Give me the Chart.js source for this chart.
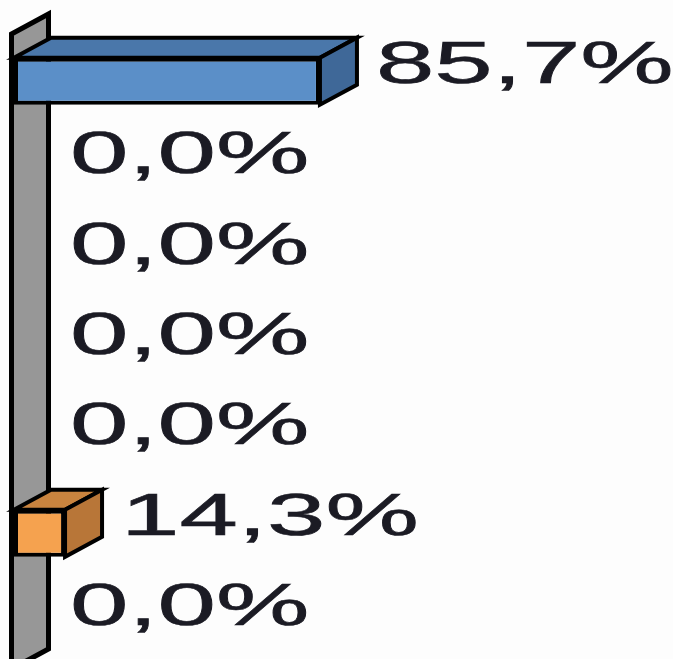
<!DOCTYPE html>
<html>
<head>
<meta charset="utf-8">
<script src="https://cdn.jsdelivr.net/npm/chart.js@4/dist/chart.umd.min.js"></script>
<style>
  html, body { margin: 0; padding: 0; background: #fdfdfd; overflow: hidden; }
  #wrap { width: 673px; height: 659px; overflow: hidden; position: relative; }
  canvas { display: block; filter: blur(0.6px); }
</style>
</head>
<body>
<div id="wrap"><canvas id="c" width="673" height="700"></canvas></div>
<script>
// ---- data ----
const categories = ['1', '2', '3', '4', '5', '6', '7'];
const percentValues = [85.7, 0.0, 0.0, 0.0, 0.0, 14.3, 0.0];
const frontColors = ['#5B8FC8', '#5B8FC8', '#5B8FC8', '#5B8FC8', '#5B8FC8', '#F5A24F', '#5B8FC8'];
const topColors   = ['#4A77AA', '#4A77AA', '#4A77AA', '#4A77AA', '#4A77AA', '#C9843F', '#4A77AA'];
const sideColors  = ['#3F6898', '#3F6898', '#3F6898', '#3F6898', '#3F6898', '#B87638', '#3F6898'];

const DX = 37, DY = -20;

function fmt(v) { return v.toFixed(1).replace('.', ',') + '%'; }

const threeD = {
  id: 'threeD',
  beforeDatasetsDraw(chart) {
    const ctx = chart.ctx;
    const area = chart.chartArea;
    const xs = chart.scales.x;
    const x0 = xs.getPixelForValue(0);
    // side wall
    ctx.save();
    ctx.beginPath();
    const wx = x0 - 2.5;
    ctx.moveTo(wx, area.top - 2);
    ctx.lineTo(wx + DX, area.top + DY - 2);
    ctx.lineTo(wx + DX, area.bottom + DY);
    ctx.lineTo(wx, area.bottom);
    ctx.closePath();
    ctx.fillStyle = '#979797';
    ctx.fill();
    ctx.lineWidth = 5;
    ctx.strokeStyle = '#000';
    ctx.lineJoin = 'miter';
    ctx.stroke();
    ctx.restore();
    // bar top and side faces
    const meta = chart.getDatasetMeta(0);
    meta.data.forEach((el, i) => {
      const v = percentValues[i];
      if (!v) return;
      const p = el.getProps(['x', 'y', 'base', 'height'], true);
      const xL = p.base, xR = p.x;
      const t = p.y - p.height / 2, b = p.y + p.height / 2;
      ctx.save();
      ctx.lineWidth = 4;
      ctx.strokeStyle = '#000';
      ctx.lineJoin = 'miter';
      // top
      ctx.beginPath();
      ctx.moveTo(xL, t);
      ctx.lineTo(xR, t);
      ctx.lineTo(xR + DX, t + DY);
      ctx.lineTo(xL + DX, t + DY);
      ctx.closePath();
      ctx.fillStyle = topColors[i];
      ctx.fill();
      ctx.stroke();
      // side
      ctx.beginPath();
      ctx.moveTo(xR, t);
      ctx.lineTo(xR + DX, t + DY);
      ctx.lineTo(xR + DX, b + DY);
      ctx.lineTo(xR, b);
      ctx.closePath();
      ctx.fillStyle = sideColors[i];
      ctx.fill();
      ctx.stroke();
      ctx.restore();
    });
  },
  afterDatasetsDraw(chart) {
    const ctx = chart.ctx;
    const meta = chart.getDatasetMeta(0);
    meta.data.forEach((el, i) => {
      const p = el.getProps(['x', 'y'], true);
      ctx.save();
      ctx.translate(p.x + DX + 19, p.y + 1.5);
      ctx.scale(1.78, 1);
      ctx.font = '59px "Liberation Sans", Arial, sans-serif';
      ctx.fillStyle = '#1b1b24';
      ctx.strokeStyle = '#1b1b24';
      ctx.lineWidth = 0.6;
      ctx.textBaseline = 'alphabetic';
      ctx.textAlign = 'left';
      ctx.fillText(fmt(percentValues[i]), 0, 0);
      ctx.strokeText(fmt(percentValues[i]), 0, 0);
      ctx.restore();
    });
  }
};

new Chart(document.getElementById('c'), {
  type: 'bar',
  data: {
    labels: categories,
    datasets: [{
      data: percentValues,
      backgroundColor: frontColors,
      borderColor: '#000',
      borderWidth: (c) => (percentValues[c.dataIndex] ? 4 : 0),
      borderSkipped: false,
      barPercentage: 0.52,
      categoryPercentage: 1.0
    }]
  },
  options: {
    indexAxis: 'y',
    responsive: false,
    animation: false,
    layout: { padding: { left: 14, right: 302, top: 36, bottom: 31 } },
    plugins: { legend: { display: false }, tooltip: { enabled: false } },
    scales: {
      x: { display: false, min: 0, max: 100 },
      y: { display: false }
    }
  },
  plugins: [threeD]
});
</script>
</body>
</html>
